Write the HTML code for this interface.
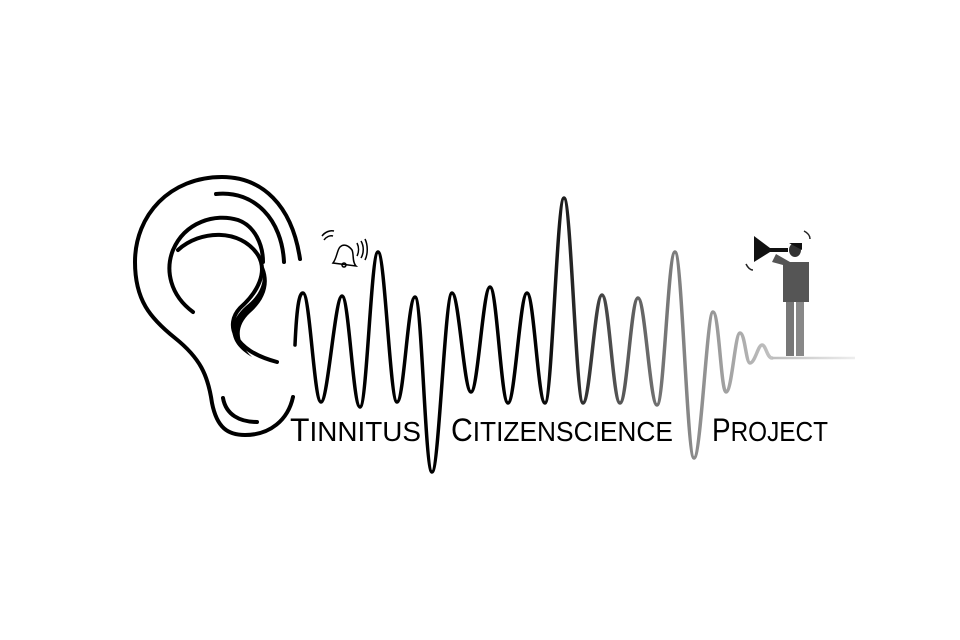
<!DOCTYPE html>
<html><head><meta charset="utf-8"><style>html,body{margin:0;padding:0;background:#fff}svg{display:block}</style></head>
<body>
<svg width="960" height="640" viewBox="0 0 960 640" xmlns="http://www.w3.org/2000/svg">
<defs>
<linearGradient id="g" gradientUnits="userSpaceOnUse" x1="535" y1="0" x2="775" y2="0">
<stop offset="0" stop-color="#000"/><stop offset="0.35" stop-color="#555"/><stop offset="1" stop-color="#c4c4c4"/>
</linearGradient>
<linearGradient id="f" gradientUnits="userSpaceOnUse" x1="770" y1="0" x2="855" y2="0">
<stop offset="0" stop-color="#bbb"/><stop offset="1" stop-color="#eee"/>
</linearGradient>
</defs>
<g fill="none" stroke="#000" stroke-width="4" stroke-linecap="round">
<path d="M300 259 C292 205 262 177 222 177 C170 177 135 215 135 262 C135 300 150 318 175 338 C200 358 208 375 212 403 C217 428 228 435 245 435 C270 435 288 420 293 397"/>
<path d="M216 194 C255 190 282 220 284 262"/>
<path d="M193 312 C170 295 165 270 173 250 C185 222 215 213 238 220 C255 226 263 245 263 262"/>
<path d="M223 398 C226 415 240 422 257 422"/>
<path d="M178 250 C200 230 240 228 258 255 C268 272 258 292 240 308 C225 324 232 350 277 362"/>
</g>
<path d="M252 250 C270 272 264 292 246 306 C228 322 226 342 252 357 C236 342 236 326 250 313 C270 296 274 272 252 250Z" fill="#000"/>
<path fill="none" stroke="url(#g)" stroke-width="3.5" stroke-linecap="round" stroke-linejoin="round"
d="M295 345 C297 300 300 293 303 293 C310 293 314 402 321 402 C328 402 335 296 342 296 C349 296 353 407 360 407 C367 407 371 252 378 252 C385 252 390 402 397 402 C404 402 408 297 415 297 C422 297 425 472 432 472 C439 472 445 293 452 293 C459 293 464 392 471 392 C478 392 483 287 490 287 C497 287 501 403 508 403 C515 403 520 293 527 293 C534 293 538 403 545 403 C552 403 557 198 564 198 C571 198 576 403 583 403 C590 403 595 295 602 295 C609 295 613 403 620 403 C627 403 631 298 638 298 C645 298 650 405 657 405 C664 405 668 252 675 252 C682 252 687 458 694 458 C701 458 707 312 713 312 C719 312 721 392 726 392 C732 392 735 333 740 333 C745 333 746 363 750 363 C755 363 758 345 762 345 C766 345 767 358 772 358"/>
<path d="M772 358 L855 358" stroke="url(#f)" stroke-width="2.5"/>
<g stroke="#000" fill="none" stroke-width="1.5">
<path d="M333 263 C337 258 337 250 340 247 C344 243 349 246 352 250 C354 254 352 262 356 266 Z" fill="#fff"/>
<circle cx="344" cy="265" r="2"/>
<path d="M322 236 C325 232 330 230 334 231 M324 240 C326 237 330 235 333 236 M357 243 C359 247 359 252 357 256 M361 241 C364 246 364 253 361 258 M365 239 C368 245 368 254 365 260"/>
</g>
<g>
<path d="M754 236 L754 262 L770 252 L788 252 L788 248 L770 248 Z" fill="#111"/>
<rect x="783" y="262" width="26" height="40" fill="#555"/>
<path d="M783 265 L772 262 L776 254 L790 262Z" fill="#555"/>
<ellipse cx="795" cy="250" rx="6" ry="7" fill="#333"/>
<path d="M789 243 L802 243 L802 250 Z" fill="#111"/>
<rect x="786" y="302" width="8" height="54" fill="#777"/>
<rect x="796" y="302" width="8" height="54" fill="#888"/>
<path d="M804 231 C808 233 810 236 810 239 M746 264 C748 268 750 270 753 270" stroke="#222" stroke-width="1.5" fill="none"/>
</g>
<g font-family="Liberation Sans, sans-serif" fill="#000">
<text x="290" y="441" font-size="32" textLength="131" lengthAdjust="spacingAndGlyphs">T<tspan font-size="28">INNITUS</tspan></text>
<text x="451" y="441" font-size="32" textLength="222" lengthAdjust="spacingAndGlyphs">C<tspan font-size="28">ITIZENSCIENCE</tspan></text>
<text x="712" y="441" font-size="32" textLength="116" lengthAdjust="spacingAndGlyphs">P<tspan font-size="28">ROJECT</tspan></text>
</g>
</svg>
</body></html>
